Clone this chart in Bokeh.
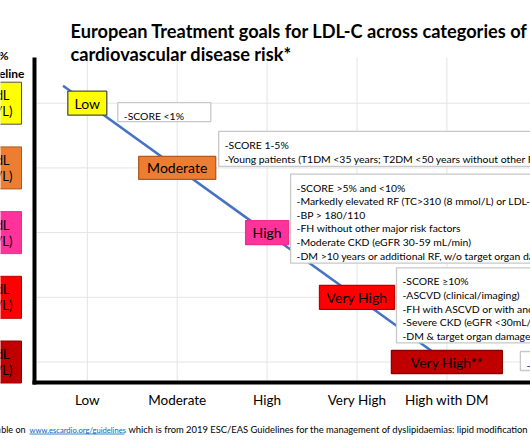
import numpy as np
from bokeh.plotting import figure
from bokeh.models import Range1d, FixedTicker, Label, ColumnDataSource
from bokeh.embed import file_html
from bokeh.resources import INLINE
from bokeh.core.properties import value

# ---------------- data ----------------
categories = ["Low", "Moderate", "High", "Very High", "High with DM"]
risk_levels = ["Low", "Moderate", "High", "Very High", "Very High**"]
ldl_goal_mgdl = ["<116 mg/dL", "<100 mg/dL", "<70 mg/dL", "<55 mg/dL", "<40 mg/dL"]
ldl_goal_mmol = ["(3.0 mmol/L)", "(2.6 mmol/L)", "(1.8 mmol/L)", "(1.4 mmol/L)", "(1.0 mmol/L)"]
risk_criteria = [
    ["-SCORE <1%"],
    ["-SCORE 1-5%",
     "-Young patients (T1DM <35 years; T2DM <50 years without other RF)"],
    ["-SCORE >5% and <10%",
     "-Markedly elevated RF (TC>310 (8 mmol/L) or LDL-C >190 mg/dL (4.9 mmol/L))",
     "-BP > 180/110",
     "-FH without other major risk factors",
     "-Moderate CKD (eGFR 30-59 mL/min)",
     "-DM >10 years or additional RF, w/o target organ damage"],
    ["-SCORE \u226510%",
     "-ASCVD (clinical/imaging)",
     "-FH with ASCVD or with another major RF",
     "-Severe CKD (eGFR <30mL/min)",
     "-DM & target organ damage or \u22653 major RF"],
    ["-Recurrent vascular event within 2 years"],
]
title_lines = ["European Treatment goals for LDL-C across categories of",
               "cardiovascular disease risk*"]
goal_header = ["LDL-C goal and \u226550%", "reduction from baseline"]
footnote_parts = ["*Full table available on",
                  "www.escardio.org/guidelines",
                  "which is from 2019 ESC/EAS Guidelines for the management of dyslipidaemias: lipid modification to reduce cardiovascular risk"]

# ---------------- styles / layout ----------------
FONT = "Lato"
FILL = ["#FFFF00", "#ED7D31", "#FF3399", "#FF0000", "#C00000"]
EDGE = ["#4D4D4D", "#AE5A21", "#E8308C", "#B80000", "#8C0000"]
BOX_W = [39, 77, 43, 75, 111]
BOX_H = [24, 23, 24, 24, 23]
DESC_GAP = [11, 3, 2, 2, 18]
DESC_DY = [9, -19, -14, 8, -1]
DESC_W = [93, 420, 420, 420, 420]
DESC_H = [19, 35, 89, 75, 19]

W, H = 530, 443
X_STEP, Y_STEP = 89.9, 64.7          # px per category step
X_FIRST, Y_FIRST = 86.8, 102.7       # px of first category from canvas edge
CHART_L, CHART_R, CHART_T, CHART_B = 34, 530, 57, 382   # chart area (axis lines)

x0 = -X_FIRST / X_STEP
y0 = -Y_FIRST / Y_STEP
x_range = Range1d(x0, x0 + W / X_STEP)
y_range = Range1d(y0 + H / Y_STEP, y0)   # inverted: first level at top


def xpx(cx):   # canvas px -> data x
    return x0 + cx / X_STEP


def ypx(cy):   # canvas px -> data y
    return y0 + cy / Y_STEP


p = figure(width=W, height=H, x_range=x_range, y_range=y_range,
           output_backend="svg", toolbar_location=None,
           min_border_left=0, min_border_right=0, min_border_top=0, min_border_bottom=0)
p.outline_line_color = None
p.background_fill_color = "white"
p.border_fill_color = "white"
p.xgrid.visible = False
p.ygrid.visible = False

idx = np.arange(len(categories))
lvl = np.arange(len(risk_levels))

# gridlines (light) inside chart area
p.segment(x0=idx, x1=idx, y0=ypx(CHART_T), y1=ypx(CHART_B - 2), line_color="#E4E4E4", line_width=1)
p.segment(x0=xpx(CHART_L + 2), x1=xpx(CHART_R), y0=lvl, y1=lvl, line_color="#E4E4E4", line_width=1)

# axes
xa = p.xaxis[0]
xa.fixed_location = ypx(CHART_B)
xa.bounds = (xpx(CHART_L - 2), xpx(CHART_R))
xa.ticker = FixedTicker(ticks=list(idx))
xa.major_label_overrides = {int(i): c for i, c in zip(idx, categories)}
xa.axis_line_width = 4
xa.axis_line_color = "black"
xa.major_tick_line_color = None
xa.minor_tick_line_color = None
xa.major_tick_out = 0
xa.major_label_text_font = FONT
xa.major_label_text_font_size = "13.5px"
xa.major_label_text_color = "black"
xa.major_label_standoff = 9

ya = p.yaxis[0]
ya.fixed_location = xpx(CHART_L)
ya.bounds = (ypx(CHART_B + 2), ypx(CHART_T))
ya.ticker = FixedTicker(ticks=[])
ya.axis_line_width = 4
ya.axis_line_color = "black"
ya.major_tick_line_color = None
ya.minor_tick_line_color = None
ya.major_label_text_font_size = "0px"

# trend line through the risk boxes
slope, icpt = np.polyfit(idx, lvl, 1)
LEAD = 0.27
lx = np.array([idx[0] - LEAD, idx[-1]])
p.line(lx, slope * lx + icpt, line_color="#4472C4", line_width=2.5)

# description boxes
box_right = idx + np.array(BOX_W) / 2 / X_STEP
d_left = box_right + np.array(DESC_GAP) / X_STEP
d_right = d_left + np.array(DESC_W) / X_STEP
d_cy = lvl + np.array(DESC_DY) / Y_STEP
d_top = d_cy - np.array(DESC_H) / 2 / Y_STEP
d_bot = d_cy + np.array(DESC_H) / 2 / Y_STEP
p.quad(left=d_left, right=d_right, top=d_top, bottom=d_bot,
       fill_color="white", line_color="#C8C8C8", line_width=1.3)

tx, ty, tt = [], [], []
for i, lines in enumerate(risk_criteria):
    for k, line in enumerate(lines):
        tx.append(d_left[i] + 6 / X_STEP)
        ty.append(d_top[i] + (13.5 + 13.6 * k) / Y_STEP)
        tt.append(line)
p.text(x=tx, y=ty, text=tt, text_font=value(FONT), text_font_size="10.4px",
       text_color="black", text_baseline="alphabetic", text_align="left")

# risk boxes
src = ColumnDataSource(dict(x=idx, y=lvl, w=BOX_W, h=BOX_H, fill=FILL, edge=EDGE, label=risk_levels))
p.rect(x="x", y="y", width="w", height="h", width_units="screen", height_units="screen",
       fill_color="fill", line_color="edge", line_width=1.3, source=src)
p.text(x="x", y="y", text="label", text_font=value(FONT), text_font_size="14px",
       text_color="black", text_align="center", text_baseline="middle", source=src)

# left goal column (cropped in the original)
p.quad(left=xpx(-60), right=xpx(21), top=lvl - 21 / Y_STEP, bottom=lvl + 21 / Y_STEP,
       fill_color=FILL, line_color=EDGE, line_width=1)
p.text(x=xpx(9), y=lvl - 8 / Y_STEP, text=ldl_goal_mgdl, text_align="right", text_baseline="middle",
       text_font=value(FONT), text_font_size="13px", text_color="black")
p.text(x=xpx(12), y=lvl + 8 / Y_STEP, text=ldl_goal_mmol, text_align="right", text_baseline="middle",
       text_font=value(FONT), text_font_size="13px", text_color="black")

p.add_layout(Label(x=xpx(8), y=ypx(55), text=goal_header[0], text_align="right", text_baseline="middle",
                   text_font=FONT, text_font_size="12px", text_font_style="bold", text_color="black"))
p.add_layout(Label(x=xpx(24), y=ypx(73), text=goal_header[1], text_align="right", text_baseline="middle",
                   text_font=FONT, text_font_size="12px", text_font_style="bold", text_color="black"))

# title
for k, t in enumerate(title_lines):
    p.add_layout(Label(x=xpx(70), y=ypx(30 + 23 * k), text=t, text_align="left", text_baseline="alphabetic",
                       text_font=FONT, text_font_size="18.2px", text_font_style="bold", text_color="black"))

# footnote
FOOT_Y = ypx(429)
p.add_layout(Label(x=xpx(25), y=FOOT_Y, text=footnote_parts[0], text_align="right", text_baseline="middle",
                   text_font=FONT, text_font_size="9px", text_color="black"))
p.add_layout(Label(x=xpx(29), y=FOOT_Y, text=footnote_parts[1], text_align="left", text_baseline="middle",
                   text_font=FONT, text_font_size="7.6px", text_color="#0563C1"))
p.segment(x0=[xpx(29)], x1=[xpx(124)], y0=[ypx(433.5)], y1=[ypx(433.5)], line_color="#0563C1", line_width=0.8)
p.add_layout(Label(x=xpx(128), y=FOOT_Y, text=footnote_parts[2], text_align="left", text_baseline="middle",
                   text_font=FONT, text_font_size="9.4px", text_color="black"))

open("out.html", "w").write(file_html(p, INLINE))
